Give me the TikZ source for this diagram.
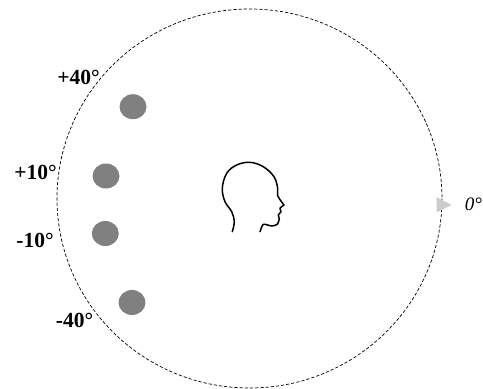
\documentclass[tikz,border=0pt]{standalone}
\usepackage{fontspec}
\setmainfont{Liberation Serif}
\usetikzlibrary{positioning,shapes.geometric}

\begin{document}
\begin{tikzpicture}[
	x=1pt, y=-1pt,
	angle/.style={font=\fontsize{21.5}{21.5}\selectfont\bfseries, inner sep=0pt},
	source/.style={draw=none, fill=black!50, ellipse, minimum width=27pt, minimum height=25pt, inner sep=0pt},
	ring/.style={draw, dash pattern=on 3.2pt off 2pt, line width=0.7pt},
	head/.style={draw, line width=1.5pt, line cap=round, line join=round}
	]
	
	\useasboundingbox (0,0) rectangle (483,389);
	
	\draw[ring] (249.5,198.5) ellipse [x radius=192.5, y radius=189.5];
	
	\node[source] (S1) at (133,106.7) {};
	\node[source] (S2) at (106,176) {};
	\node[source] (S3) at (105.3,233.5) {};
	\node[source] (S4) at (132,302.5) {};
	
	\node[angle] (L1) at (78.5,77.5) {+40°};
	\node[angle] (L2) at (35.5,172.5) {+10°};
	\node[angle] (L3) at (35,240.5) {-10°};
	\node[angle] (L4) at (74.5,320) {-40°};
	
	\fill[black!20] (436.7,197.3) -- (451.7,205) -- (436.7,212.3) -- cycle;
	\node[inner sep=0pt, font=\fontsize{19}{19}\selectfont\itshape] (L0) at (473.5,204.5) {0°};
	
	\draw[head] plot[smooth, tension=0.6] coordinates {
		(232.3,231.7) (234.3,221.7) (231.7,211.7) (225,201.7) (222.3,188.3)
		(226.7,173.3) (236.7,165) (250,162.3) (263.3,166.7) (274,176.7)
		(277.7,188.3) (277.7,195.7) (284,205)};
	\draw[head] plot[smooth, tension=0.4] coordinates {
		(284,205) (280,208.3) (281,211.7) (278.3,215) (279.3,219)
		(277.3,224.3) (271.7,226) (263.3,224.3) (260,231.7)};
	
\end{tikzpicture}
\end{document}
